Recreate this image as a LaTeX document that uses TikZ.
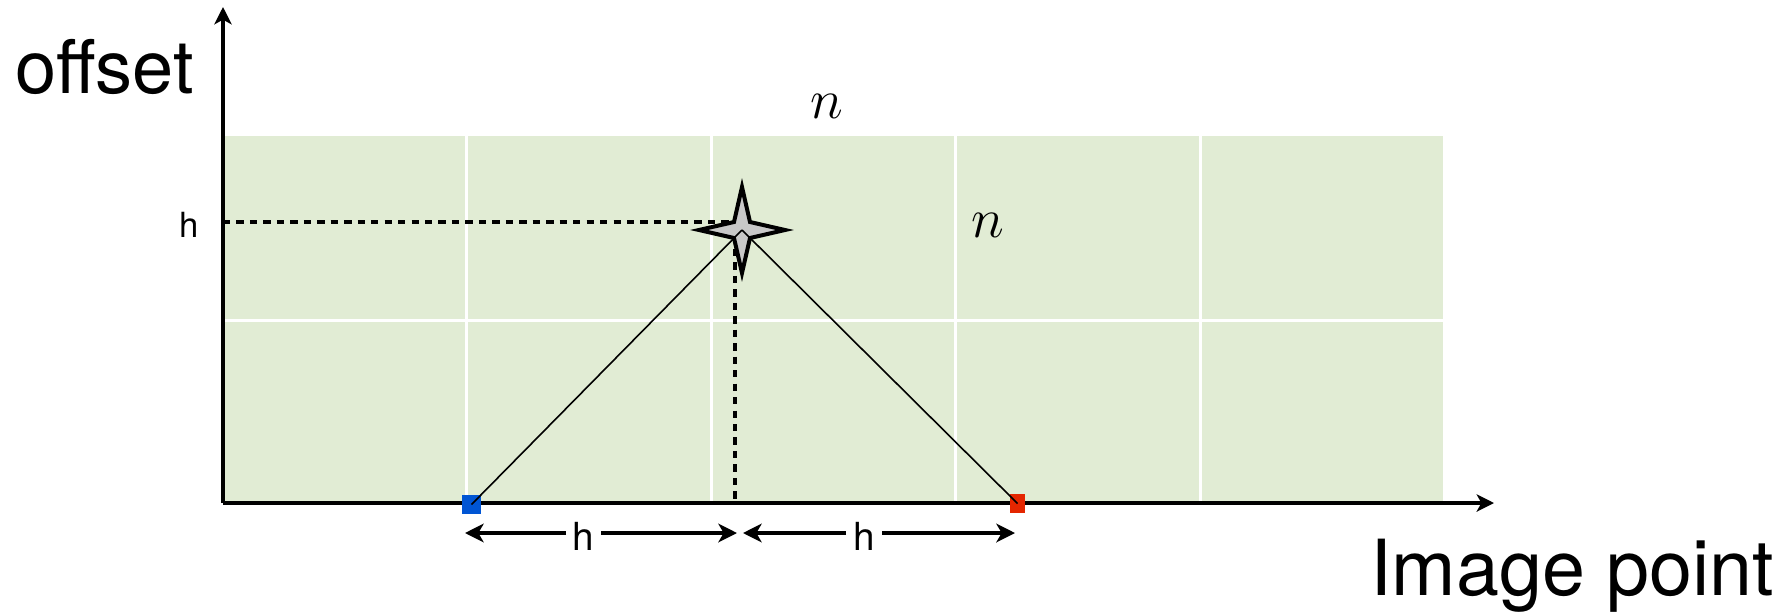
\RequirePackage{fix-cm}
\documentclass[tikz,border=0pt]{standalone}
\usepackage{fontspec}
\setmainfont{TeX Gyre Heros}
\usetikzlibrary{arrows.meta}
\definecolor{gridgreen}{RGB}{225,236,212}
\definecolor{sqblue}{RGB}{0,85,212}
\definecolor{sqred}{RGB}{228,38,0}
\definecolor{stargray}{RGB}{200,200,200}
\tikzset{
  axisline/.style={line width=2.4pt,-{Stealth[length=13pt,width=13pt,inset=3.5pt]}},
  gridline/.style={white,line width=2.25pt},
  guide/.style={line width=3pt,dash pattern=on 5.5pt off 4.6pt},
  ray/.style={line width=1.2pt},
  dimarrow/.style={line width=2.5pt,-{Stealth[length=14pt,width=14pt,inset=4pt]}},
  sqbox/.style={minimum width=#1,minimum height=14.25pt,inner sep=0pt,draw=none},
  bigtext/.style={inner sep=0pt,anchor=base west},
  hlabel/.style={inner sep=0pt,anchor=base},
  mathlabel/.style={inner sep=0pt,font=\fontsize{42pt}{46pt}\selectfont},
}
\begin{document}
\begin{tikzpicture}[x=0.75pt,y=-0.75pt]
\useasboundingbox (0,0) rectangle (1792,611);
% green grid
\fill[gridgreen] (223,136) rectangle (1443,503);
\foreach \gx in {466.5,711,955.5,1200}
  \draw[gridline] (\gx,136) -- (\gx,503);
\draw[gridline] (223,320) -- (1443,320);
% guides
\coordinate (O) at (223,503);
\coordinate (S) at (742,230);
\coordinate (G) at (735,222);
\coordinate (Gy) at (223,222);
\coordinate (Gx) at (735,503);
\draw[guide] (Gy) -- (G);
\draw[guide] (G) -- (Gx);
% axes
\coordinate (yTop) at (223,7);
\coordinate (xEnd) at (1494,503);
\draw[axisline] (O) -- (yTop);
\draw[axisline] (O) -- (xEnd);
% squares
\node[sqbox=14.25pt,fill=sqblue] (B) at (471.5,504.5) {};
\node[sqbox=11.5pt,fill=sqred] (R) at (1017.5,503.5) {};
% star
\draw[line width=3pt,fill=stargray,line join=miter,miter limit=20]
  (742,187) -- (750,222) -- (785,230) -- (750,238) -- (742,273) -- (734,238) -- (699,230) -- (734,222) -- cycle;
% rays
\draw[ray] (B.center) -- (S);
\draw[ray] (R.center) -- (S);
% labels
\node[bigtext,font=\fontsize{55.5pt}{60pt}\selectfont] (off) at (15,93) {offset};
\node[bigtext,font=\fontsize{58pt}{62pt}\selectfont] (img) at (1370,595) {Image point};
\node[hlabel,font=\fontsize{26pt}{30pt}\selectfont] (hl) at (189,237) {h};
\node[mathlabel] (n1) at (827,106) {$n$};
\node[mathlabel] (n2) at (988,225) {$n$};
% dimension arrows
\coordinate (d1a) at (465,533);
\coordinate (d1b) at (737,533);
\coordinate (d2a) at (743,533);
\coordinate (d2b) at (1015,533);
\node[hlabel,font=\fontsize{29pt}{33pt}\selectfont] (h1) at (583,550) {h};
\node[hlabel,font=\fontsize{29pt}{33pt}\selectfont] (h2) at (864,550) {h};
\coordinate (h1l) at (566,533);
\coordinate (h1r) at (601,533);
\coordinate (h2l) at (846,533);
\coordinate (h2r) at (882,533);
\draw[dimarrow] (h1l) -- (d1a);
\draw[dimarrow] (h1r) -- (d1b);
\draw[dimarrow] (h2l) -- (d2a);
\draw[dimarrow] (h2r) -- (d2b);
\end{tikzpicture}
\end{document}
